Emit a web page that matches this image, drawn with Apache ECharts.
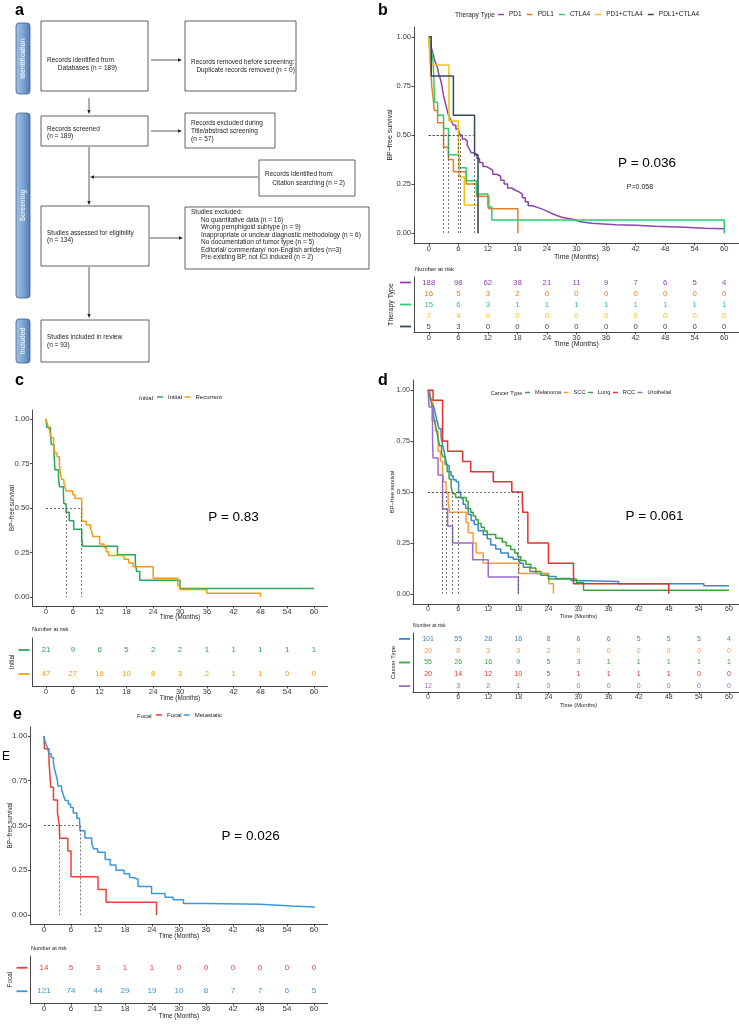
<!DOCTYPE html>
<html style="height: 100%;margin: 0;padding: 0;">
<head>
    <meta charset="utf-8">
    <title>BP-free survival</title>
    <script src="https://cdn.jsdelivr.net/npm/echarts@6.0.0/dist/echarts.min.js"></script>
</head>
<body style="margin: 0;padding: 0;background: #ffffff;">
<div id="main" style="width: 739px;height: 1025px;"></div>
<script type="text/javascript">
// ---- values ----
var months = [0, 6, 12, 18, 24, 30, 36, 42, 48, 54, 60];
var survTicks = [0, 0.25, 0.5, 0.75, 1];

// b: therapy type
var therapyTypes = ['PD1', 'PDL1', 'CTLA4', 'PD1+CTLA4', 'PDL1+CTLA4'];
var pd1Curve = [[0,1],[0.2,0.97],[0.4,0.95],[0.7,0.93],[1.0,0.90],[1.2,0.88],[1.5,0.86],[1.8,0.84],[2.0,0.81],[2.3,0.79],[2.6,0.76],[2.8,0.73],[3.0,0.70],[3.3,0.67],[3.6,0.64],[3.9,0.61],[4.2,0.59],[4.6,0.57],[5.0,0.55],[5.5,0.53],[6.0,0.52],[6.3,0.50],[6.8,0.48],[7.3,0.47],[7.8,0.45],[8.2,0.43],[8.6,0.41],[9.2,0.40],[9.8,0.38],[10.3,0.36],[11.0,0.34],[11.6,0.33],[12.4,0.32],[13.0,0.30],[13.8,0.29],[14.6,0.27],[15.3,0.25],[16.0,0.23],[16.8,0.22],[17.5,0.21],[18.3,0.20],[19.0,0.18],[19.6,0.16],[20.2,0.14],[21.0,0.13],[22.2,0.12],[23.3,0.11],[24.2,0.10],[25.0,0.09],[26.0,0.08],[27.2,0.07],[29.5,0.06],[30.5,0.05],[33.0,0.047],[35.5,0.043],[38.0,0.04],[42.0,0.035],[46.0,0.03],[52.0,0.025],[56.0,0.022],[60,0.02]];
var pdl1Curve = [[0,1],[0.2,0.9375],[0.6,0.75],[0.9,0.6875],[1.1,0.625],[1.8,0.5625],[3.0,0.4375],[4.0,0.375],[5.0,0.3125],[7.6,0.25],[9.7,0.1875],[12.2,0.125],[18.1,0]];
var ctla4Curve = [[0,1],[0.5,0.933],[0.9,0.867],[1.0,0.8],[1.2,0.667],[1.8,0.6],[3.0,0.533],[4.0,0.4],[6.1,0.333],[7.6,0.267],[9.7,0.2],[12.0,0.133],[12.8,0.067],[60,0]];
var pd1Ctla4Curve = [[0,1],[0.3,0.857],[4.1,0.571],[6.0,0.429],[6.2,0.286],[7.2,0.143],[10.0,0]];
var pdl1Ctla4Curve = [[0,1],[0.5,0.8],[5.0,0.6],[9.3,0.4],[10.0,0]];
var therapyRisk = [
    [188, 98, 62, 38, 21, 11, 9, 7, 6, 5, 4],
    [16, 5, 3, 2, 0, 0, 0, 0, 0, 0, 0],
    [15, 6, 3, 1, 1, 1, 1, 1, 1, 1, 1],
    [7, 4, 0, 0, 0, 0, 0, 0, 0, 0, 0],
    [5, 3, 0, 0, 0, 0, 0, 0, 0, 0, 0]
];
var therapyMedian = [6.3, 3.0, 4.0, 6.0, 9.3];

// c: initial vs recurrent
var onsetTypes = ['Initial', 'Recurrent'];
var initialCurve = [[0,1],[0.2,0.952],[1.0,0.905],[1.2,0.857],[1.8,0.810],[2.0,0.714],[2.8,0.667],[3.0,0.619],[3.9,0.571],[4.0,0.524],[4.5,0.476],[5.2,0.429],[6.2,0.381],[8.0,0.333],[8.2,0.286],[16.0,0.238],[20.0,0.190],[20.3,0.143],[21.0,0.095],[30.0,0.048],[60,0.048]];
var recurrentCurve = [[0,1],[0.2,0.979],[0.5,0.957],[0.8,0.936],[1.0,0.915],[1.2,0.894],[1.7,0.851],[2.0,0.809],[2.5,0.787],[3.0,0.745],[3.2,0.702],[3.5,0.660],[4.0,0.638],[4.3,0.617],[4.5,0.596],[6.0,0.574],[6.5,0.553],[8.0,0.426],[9.0,0.404],[10.0,0.383],[10.3,0.362],[10.5,0.340],[12.0,0.298],[13.0,0.277],[13.5,0.255],[14.0,0.234],[17.5,0.213],[18.5,0.191],[19.5,0.170],[24.0,0.106],[29.5,0.064],[30.0,0.043],[36.0,0.021],[48.0,0]];
var onsetRisk = [
    [21, 9, 6, 5, 2, 2, 1, 1, 1, 1, 1],
    [47, 27, 16, 10, 8, 3, 2, 1, 1, 0, 0]
];
var onsetMedian = [4.5, 8.0];

// d: cancer type
var cancerTypes = ['Melanoma', 'SCC', 'Lung', 'RCC', 'Urothelial'];
var melanomaCurve = [[0,1],[0.2,0.99],[0.4,0.97],[0.7,0.95],[1.0,0.93],[1.3,0.90],[1.6,0.87],[1.9,0.84],[2.2,0.81],[2.6,0.77],[2.9,0.73],[3.2,0.70],[3.5,0.66],[3.8,0.63],[4.2,0.60],[4.6,0.58],[5.0,0.56],[5.6,0.55],[6.1,0.50],[6.5,0.47],[7.0,0.44],[7.5,0.42],[8.0,0.39],[8.6,0.36],[9.2,0.34],[10.0,0.31],[11.0,0.29],[11.8,0.27],[12.5,0.24],[13.5,0.22],[14.5,0.20],[16.0,0.18],[17.0,0.17],[18.3,0.15],[19.0,0.13],[20.3,0.11],[21.5,0.10],[24.0,0.085],[25.5,0.075],[28.5,0.065],[29.5,0.06],[38.0,0.05],[55.0,0.04],[60,0.04]];
var sccCurve = [[0,1],[0.4,0.95],[0.8,0.85],[1.5,0.80],[2.0,0.70],[2.5,0.65],[2.9,0.60],[3.1,0.55],[3.6,0.50],[4.0,0.45],[4.3,0.40],[7.6,0.35],[8.0,0.30],[9.0,0.25],[9.6,0.20],[11.0,0.15],[18.1,0.10],[24.1,0.05],[25.0,0]];
var lungCurve = [[0,1],[0.3,0.982],[0.6,0.945],[0.9,0.909],[1.1,0.873],[1.4,0.836],[1.7,0.80],[2.0,0.764],[2.3,0.727],[2.7,0.691],[3.0,0.673],[3.4,0.636],[3.8,0.60],[4.2,0.564],[4.6,0.527],[4.9,0.491],[5.5,0.473],[7.6,0.455],[8.0,0.418],[8.5,0.40],[9.0,0.382],[9.5,0.364],[10.0,0.345],[10.6,0.327],[11.2,0.309],[11.8,0.291],[13.5,0.273],[14.8,0.255],[15.6,0.236],[16.5,0.218],[17.3,0.20],[17.9,0.182],[18.5,0.164],[19.5,0.145],[20.5,0.127],[21.5,0.109],[22.5,0.091],[24.0,0.073],[29.6,0.055],[31.0,0.018],[60,0.018]];
var rccCurve = [[0,1],[1.0,0.95],[2.9,0.75],[3.9,0.70],[6.9,0.65],[8.5,0.60],[13.0,0.55],[16.7,0.50],[18.8,0.45],[18.9,0.40],[19.9,0.25],[24.0,0.15],[29.0,0.05],[48.0,0]];
var urothelialCurve = [[0,1],[0.2,0.917],[0.9,0.75],[1.0,0.667],[2.0,0.583],[2.9,0.417],[3.9,0.333],[4.9,0.25],[8.9,0.167],[12.0,0.083],[18.0,0]];
var cancerRisk = [
    [101, 55, 28, 16, 8, 6, 6, 5, 5, 5, 4],
    [20, 8, 3, 3, 2, 0, 0, 0, 0, 0, 0],
    [55, 26, 16, 9, 5, 3, 1, 1, 1, 1, 1],
    [20, 14, 12, 10, 5, 1, 1, 1, 1, 0, 0],
    [12, 3, 2, 1, 0, 0, 0, 0, 0, 0, 0]
];
var cancerMedian = [6.1, 3.6, 4.9, 17.9, 2.9];

// e: focal vs metastatic
var spreadTypes = ['Focal', 'Metastatic'];
var focalCurve = [[0,1],[0.1,0.929],[1.1,0.857],[1.5,0.714],[2.1,0.643],[3.0,0.571],[3.4,0.50],[3.5,0.429],[5.3,0.357],[6.0,0.214],[12.0,0.143],[13.8,0.071],[25.0,0]];
var metastaticCurve = [[0,1],[0.1,0.98],[0.4,0.96],[0.8,0.93],[1.1,0.90],[1.6,0.88],[2.1,0.85],[2.3,0.82],[2.6,0.79],[3.0,0.75],[3.1,0.72],[3.9,0.70],[4.3,0.67],[4.7,0.64],[5.4,0.62],[5.9,0.60],[6.5,0.57],[7.3,0.54],[7.9,0.52],[8.0,0.47],[9.1,0.43],[10.6,0.40],[11.0,0.37],[11.9,0.35],[13.6,0.31],[14.7,0.28],[16.0,0.25],[17.8,0.23],[19.0,0.21],[19.8,0.20],[20.9,0.16],[23.9,0.12],[26.9,0.10],[28.7,0.085],[31.0,0.065],[36.1,0.06],[48.0,0.05],[55.0,0.045],[60,0.04]];
var spreadRisk = [
    [14, 5, 3, 1, 1, 0, 0, 0, 0, 0, 0],
    [121, 74, 44, 29, 19, 10, 8, 7, 7, 6, 5]
];
var spreadMedian = [3.4, 8.0];

// ---- layout / style ----
var font = "'Liberation Sans', Arial, Helvetica, sans-serif";
var axisLine = {color: '#333333', width: 0.9};

var panels = [
    {groups: therapyTypes, curves: [pd1Curve, pdl1Curve, ctla4Curve, pd1Ctla4Curve, pdl1Ctla4Curve],
     risk: therapyRisk, medians: therapyMedian, title: 'Therapy Type',
     colors: ['#8E44AD', '#E67E22', '#2ECC71', '#F1C40F', '#34495E'],
     left: 414, width: 325, mainTop: 27, mainH: 216, tabTop: 277, tabH: 55,
     tickFs: 7.5, nameFs: 7, riskFs: 7.8, legFs: 6.5, legW: 6, legGap: 5, legLeft: 498, legTop: 11, legTitle: [455, 15],
     yNameGap: 20.5, tabNameGap: 19, xNameGap: [10.5, 8.5], riskTitle: [415, 269], riskTitleFs: 6,
     pText: ['P = 0.036', 647, 163]},
    {groups: onsetTypes, curves: [initialCurve, recurrentCurve],
     risk: onsetRisk, medians: onsetMedian, title: 'Initial',
     colors: ['#2BA55C', '#F39C12'],
     left: 32.6, width: 294.8, mainTop: 410, mainH: 196, tabTop: 638, tabH: 48,
     tickFs: 7.8, nameFs: 6.3, riskFs: 7.8, legFs: 6, legW: 6, legGap: 2.5, legLeft: 157, legTop: 394, legTitle: [139, 398],
     yNameGap: 17.7, tabNameGap: 17, xNameGap: [8.5, 9.5], riskTitle: [32, 629], riskTitleFs: 5.6,
     pText: ['P = 0.83', 233.5, 517]},
    {groups: cancerTypes, curves: [melanomaCurve, sccCurve, lungCurve, rccCurve, urothelialCurve],
     risk: cancerRisk, medians: cancerMedian, title: 'Cancer Type',
     colors: ['#3A87C8', '#FF9A3C', '#3DA33D', '#E8312F', '#9C6BCB'],
     left: 413, width: 331, mainTop: 380, mainH: 224, tabTop: 633, tabH: 59,
     tickFs: 7, nameFs: 5.8, riskFs: 7, legFs: 5.6, legW: 5, legGap: 2.5, legLeft: 525, legTop: 389.5, legTitle: [490.7, 393],
     yNameGap: 17.4, tabNameGap: 16.5, xNameGap: [9.5, 10.5], riskTitle: [413, 626], riskTitleFs: 5,
     pText: ['P = 0.061', 654.5, 516]},
    {groups: spreadTypes, curves: [focalCurve, metastaticCurve],
     risk: spreadRisk, medians: spreadMedian, title: 'Focal',
     colors: ['#EE4035', '#3A97DD'],
     left: 30.5, width: 297, mainTop: 727, mainH: 197, tabTop: 956, tabH: 47,
     tickFs: 8, nameFs: 6.3, riskFs: 8, legFs: 6, legW: 6, legGap: 2, legLeft: 156, legTop: 712, legTitle: [137, 716],
     yNameGap: 17.3, tabNameGap: 17.5, xNameGap: [9.5, 10.5], riskTitle: [31, 948], riskTitleFs: 5.5,
     pText: ['P = 0.026', 250.7, 836]}
];

// ---- helpers for the drawn text / flow diagram ----
function txt(x, y, s, size, extra) {
    var st = {text: s, fontSize: size, fontFamily: font, fill: '#222', align: 'left', verticalAlign: 'middle'};
    for (var k in (extra || {})) st[k] = extra[k];
    return {type: 'text', x: x, y: y, style: st, silent: true};
}
function box(x, y, w, h) {
    return {type: 'rect', shape: {x: x, y: y, width: w, height: h}, style: {fill: '#fff', stroke: '#3a3a3a', lineWidth: 0.8}, silent: true};
}
function arrow(x1, y1, x2, y2) {
    var dx = x2 - x1, dy = y2 - y1, len = Math.sqrt(dx * dx + dy * dy), ux = dx / len, uy = dy / len;
    var hx = x2 - ux * 4, hy = y2 - uy * 4;
    return [
        {type: 'line', shape: {x1: x1, y1: y1, x2: hx, y2: hy}, style: {stroke: '#333', lineWidth: 0.8}, silent: true},
        {type: 'polygon', shape: {points: [[x2, y2], [hx - uy * 1.7, hy + ux * 1.7], [hx + uy * 1.7, hy - ux * 1.7]]}, style: {fill: '#222'}, silent: true}
    ];
}
function sideBar(x, y, w, h, label) {
    return [
        {type: 'rect', shape: {x: x, y: y, width: w, height: h, r: 3},
         style: {fill: new echarts.graphic.LinearGradient(0, 0, 1, 0, [
             {offset: 0, color: '#a3c1e4'}, {offset: 0.5, color: '#7ea5d4'}, {offset: 1, color: '#4e7bb3'}]),
             stroke: '#3d6190', lineWidth: 0.8}, silent: true},
        {type: 'text', x: x + w / 2, y: y + h / 2, rotation: Math.PI / 2, silent: true,
         style: {text: label, fontSize: 6.5, fontWeight: 'bold', fontFamily: font, fill: '#e9f0f8', align: 'center', verticalAlign: 'middle'}}
    ];
}
function lines(x, y0, step, arr, size) {
    return arr.map(function (s, i) { return txt(x, y0 + i * step, s, size || 6.5); });
}

var graphics = [];
// panel a
graphics = graphics.concat(
    sideBar(16, 23, 14, 71, 'Identification'),
    sideBar(16, 113, 14, 185, 'Screening'),
    sideBar(16, 319, 14, 44, 'Included'),
    [box(41, 21, 107, 70), box(185, 21, 111, 70), box(41, 116, 107, 30), box(185, 113, 90, 35),
     box(259, 160, 96, 36), box(41, 206, 108, 60), box(185, 207, 184, 62), box(41, 320, 108, 42)],
    lines(47, 60, 8, ['Records identified from', '      Databases (n = 189)']),
    lines(191, 62, 8, ['Records removed before screening:', '   Duplicate records removed (n = 0)']),
    lines(47, 129, 7, ['Records screened', '(n = 189)']),
    lines(191, 123, 8, ['Records excluded during', 'Title/abstract screening', '(n = 57)']),
    lines(265, 174, 9, ['Records identified from:', '    Citation searching (n = 2)']),
    lines(47, 233, 7.5, ['Studies assessed for eligibility', '(n = 134)']),
    lines(191, 212, 7.6, ['Studies excluded:']),
    lines(201, 220, 7.5, ['No quantitative data (n = 16)', 'Wrong pemphigoid subtype (n = 9)',
        'Inappropriate or unclear diagnostic methodology (n = 6)', 'No documentation of tumor type (n = 5)',
        'Editorial/ commentary/ non-English articles (n=3)', 'Pre-existing BP, not ICI induced (n = 2)']),
    lines(47, 337, 8, ['Studies included in review', '(n = 93)']),
    arrow(151, 60, 182, 60), arrow(89, 98, 89, 114),
    arrow(151, 131, 182, 131), arrow(89, 147, 89, 205), arrow(258, 177, 90, 177),
    arrow(150, 238, 183, 238), arrow(89, 267, 89, 318)
);
// panel letters and stray glyph
graphics.push(txt(15, 11, 'a', 16, {fontWeight: 'bold', fill: '#000'}));
graphics.push(txt(378, 11, 'b', 16, {fontWeight: 'bold', fill: '#000'}));
graphics.push(txt(15, 381, 'c', 16, {fontWeight: 'bold', fill: '#000'}));
graphics.push(txt(378, 381, 'd', 16, {fontWeight: 'bold', fill: '#000'}));
graphics.push(txt(13, 715, 'e', 16, {fontWeight: 'bold', fill: '#000'}));
graphics.push(txt(2, 757, 'E', 12, {fill: '#000'}));
graphics.push(txt(640, 187, 'P=0.058', 7, {align: 'center'}));

// ---- chart components built from the data ----
var grids = [], xAxes = [], yAxes = [], series = [], legends = [];
panels.forEach(function (p, k) {
    var gm = 2 * k, gt = 2 * k + 1;
    grids.push({left: p.left, top: p.mainTop, width: p.width, height: p.mainH, outerBoundsMode: 'none'});
    grids.push({left: p.left, top: p.tabTop, width: p.width, height: p.tabH, outerBoundsMode: 'none'});
    [gm, gt].forEach(function (gi, j) {
        xAxes.push({
            type: 'value', gridIndex: gi, min: -3, max: 63,
            axisLine: {show: true, onZero: false, lineStyle: axisLine},
            axisTick: {show: true, length: 2.5, customValues: months, lineStyle: axisLine},
            axisLabel: {customValues: months, fontSize: p.tickFs, color: '#3a3a3a', margin: 2, fontFamily: font},
            splitLine: {show: false},
            name: 'Time (Months)', nameLocation: 'middle', nameGap: p.xNameGap[j], nameMoveOverlap: false,
            nameTextStyle: {fontSize: p.nameFs, color: '#222', fontFamily: font}
        });
    });
    yAxes.push({
        type: 'value', gridIndex: gm, min: -0.05, max: 1.05,
        axisLine: {show: true, onZero: false, lineStyle: axisLine},
        axisTick: {show: true, length: 2.5, customValues: survTicks, lineStyle: axisLine},
        axisLabel: {customValues: survTicks, fontSize: p.tickFs, color: '#3a3a3a', margin: 3, fontFamily: font,
                    formatter: function (v) { return v.toFixed(2); }},
        splitLine: {show: false},
        name: 'BP\u2212free survival', nameLocation: 'middle', nameRotate: 90, nameGap: p.yNameGap, nameMoveOverlap: false,
        nameTextStyle: {fontSize: p.nameFs, color: '#222', fontFamily: font}
    });
    var rich = {};
    p.colors.forEach(function (c, i) { rich['k' + i] = {width: 11, height: 1.8, lineHeight: 2, fontSize: 1, backgroundColor: c}; });
    yAxes.push({
        type: 'category', gridIndex: gt, data: p.groups, inverse: true,
        axisLine: {show: true, onZero: false, lineStyle: axisLine}, axisTick: {show: false}, splitLine: {show: false},
        axisLabel: {margin: 3, formatter: function (v, i) { return '{k' + i + '| }'; }, rich: rich},
        name: p.title, nameLocation: 'middle', nameRotate: 90, nameGap: p.tabNameGap, nameMoveOverlap: false,
        nameTextStyle: {fontSize: p.nameFs, color: '#222', fontFamily: font}
    });
    p.groups.forEach(function (g, i) {
        var m = p.medians[i];
        series.push({
            type: 'line', name: g, xAxisIndex: gm, yAxisIndex: gm, step: 'end', symbol: 'none',
            data: p.curves[i], color: p.colors[i], lineStyle: {width: 1.5}, silent: true, z: 3,
            markLine: {silent: true, symbol: ['none', 'none'], label: {show: false}, emphasis: {disabled: true},
                lineStyle: {type: [2, 2], color: '#555', width: 0.8},
                data: [[{coord: [0, 0.5]}, {coord: [m, 0.5]}], [{coord: [m, 0.5]}, {coord: [m, 0]}]]}
        });
        // numbers at risk, placed through the table's own axes
        series.push({
            type: 'custom', name: g + ' at risk', xAxisIndex: gt, yAxisIndex: gt, silent: true,
            encode: {x: 0, y: 1},
            data: months.map(function (mo, j) { return [mo, i, p.risk[i][j]]; }),
            renderItem: function (params, api) {
                var pt = api.coord([api.value(0), api.value(1)]);
                return {type: 'text', x: pt[0], y: pt[1],
                        style: {text: String(api.value(2)), fill: p.colors[i], fontSize: p.riskFs, fontFamily: font,
                                 align: 'center', verticalAlign: 'middle'}};
            }
        });
    });
    legends.push({
        left: p.legLeft, top: p.legTop, data: p.groups, icon: 'rect', itemWidth: p.legW, itemHeight: 1.5,
        itemGap: p.legGap, padding: 0, selectedMode: false,
        textStyle: {fontSize: p.legFs, color: '#222', fontFamily: font}
    });
    graphics.push(txt(p.legTitle[0], p.legTitle[1], p.title, p.legFs));
    graphics.push(txt(p.riskTitle[0], p.riskTitle[1], 'Number at risk', p.riskTitleFs));
    graphics.push(txt(p.pText[1], p.pText[2], p.pText[0], 13.5, {align: 'center', fill: '#000'}));
});

var myChart = echarts.init(document.getElementById('main'));
myChart.setOption({
    animation: false,
    textStyle: {fontFamily: font},
    grid: grids, xAxis: xAxes, yAxis: yAxes, legend: legends, series: series,
    graphic: {elements: graphics}
});
</script>
</body>
</html>
